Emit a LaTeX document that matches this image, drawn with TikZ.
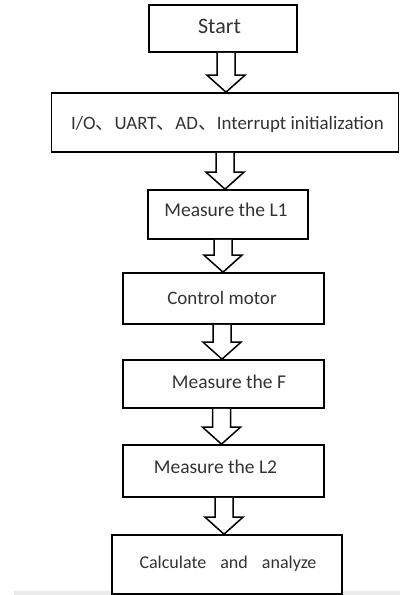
\documentclass[tikz,border=0pt]{standalone}
\usepackage{fontspec}
\setmainfont{Carlito}
\newfontfamily\cjk{Noto Sans CJK SC}
\usetikzlibrary{calc}
\tikzset{
  stepbox/.style={draw=black, line width=1.7pt, fill=white, inner sep=0pt, text=black!80, text depth=0pt, font=\fontsize{18}{20}\selectfont},
  blockarrow/.style={draw=black, line width=1.5pt, fill=white, line join=miter}
}
\newcommand\barrow[3]{%
  \draw[blockarrow] let \p1=(#2.south), \p2=(#3.north) in
    ({#1pt-9pt},\y1) -- ({#1pt-9pt},{\y2+17pt}) -- ({#1pt-19pt},{\y2+17pt}) --
    (#1pt,\y2) -- ({#1pt+19pt},{\y2+17pt}) -- ({#1pt+9pt},{\y2+17pt}) -- ({#1pt+9pt},\y1);}
\begin{document}
\begin{tikzpicture}[x=1pt,y=-1pt]
\useasboundingbox (0,0) rectangle (400,595);
\fill[black!8] (14,591) rectangle (400,595);
\node[stepbox, minimum width=148pt, minimum height=47pt, text height=9pt, font=\fontsize{22}{24}\selectfont] (start) at (223,28.5) {Start\kern7pt};
\node[stepbox, minimum width=347pt, minimum height=59pt, text height=13pt, font=\fontsize{18.9}{20}\selectfont] (init) at (225,122.5) {\hspace{5pt}I/O{\cjk 、}UART{\cjk 、}AD{\cjk 、}Interrupt initialization};
\node[stepbox, minimum width=160pt, minimum height=49pt, text height=3pt, font=\fontsize{19.5}{22}\selectfont] (l1) at (228,214.5) {Measure the L1\kern4pt};
\node[stepbox, minimum width=201pt, minimum height=51pt, text height=11pt, font=\fontsize{19}{21}\selectfont] (motor) at (223.5,298.5) {Control motor\kern3pt};
\node[stepbox, minimum width=201pt, minimum height=48pt, text height=8pt, font=\fontsize{19.5}{22}\selectfont] (f) at (223.5,384) {\hspace{11pt}Measure the F};
\node[stepbox, minimum width=201pt, minimum height=52pt, text height=4pt, font=\fontsize{19.5}{22}\selectfont] (l2) at (223.5,471) {Measure the L2\kern16pt};
\node[stepbox, minimum width=230pt, minimum height=59pt, text height=7pt] (calc) at (227,564.5) {\hspace{2pt}Calculate\hspace{10pt} and\hspace{10pt} analyze};
\barrow{226}{start}{init}
\barrow{225}{init}{l1}
\barrow{223}{l1}{motor}
\barrow{222}{motor}{f}
\barrow{221.5}{f}{l2}
\barrow{224}{l2}{calc}
\end{tikzpicture}
\end{document}
